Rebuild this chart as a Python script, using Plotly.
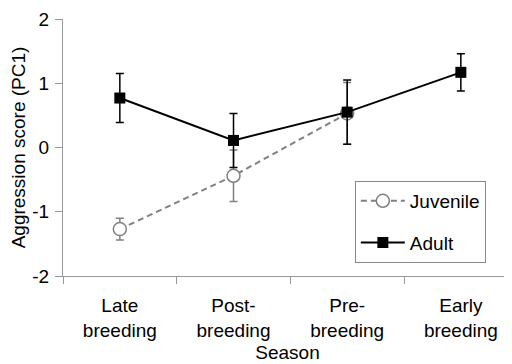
import plotly.graph_objects as go

seasons = ["Late<br>breeding", "Post-<br>breeding", "Pre-<br>breeding", "Early<br>breeding"]
juvenile = [-1.27, -0.44, 0.53]
juvenile_err = [0.17, 0.40, 0.48]
adult = [0.77, 0.11, 0.55, 1.17]
adult_err = [0.38, 0.42, 0.50, 0.29]
y_ticks = [-2, -1, 0, 1, 2]
y_tick_labels = ["-2", "-1", "0", "1", "2"]

font = "Liberation Sans, Arial, sans-serif"
gray = "#808080"

fig = go.Figure()
fig.add_trace(go.Scatter(
    x=seasons[:3], y=juvenile, name="Juvenile", mode="lines+markers", legendgroup="j",
    line=dict(color=gray, width=2, dash="6px,4px"),
    marker=dict(symbol="circle", size=13, color="white", line=dict(color=gray, width=1.5)),
    error_y=dict(type="data", array=juvenile_err, color=gray, thickness=1.5, width=4),
))
fig.add_trace(go.Scatter(
    x=seasons, y=adult, name="Adult", mode="lines+markers", legendgroup="a",
    line=dict(color="black", width=2),
    marker=dict(symbol="square", size=11, color="black"),
    error_y=dict(type="data", array=adult_err, color="black", thickness=1.5, width=4),
))

# page body has an 8px margin, so the figure is laid out 8px smaller
fig.update_layout(
    width=504, height=356,
    margin=dict(l=55, r=0, t=11, b=88),
    paper_bgcolor="white", plot_bgcolor="white",
    font=dict(family=font, size=19, color="black"),
    showlegend=True,
    legend=dict(
        x=0.65, y=0.37, xanchor="left", yanchor="top",
        bordercolor="#888888", borderwidth=1, bgcolor="white",
        font=dict(size=19), tracegroupgap=14, itemwidth=44,
    ),
)
fig.update_xaxes(
    type="category", categoryorder="array", categoryarray=seasons,
    range=[-0.5, 3.45], showline=True, linecolor="#999999", linewidth=1,
    ticks="outside", tickson="boundaries", ticklen=7, tickcolor="#999999",
    showgrid=False, zeroline=False, automargin=False,
    ticklabelstandoff=12,
    title=dict(text="Season", standoff=6, font=dict(size=19)),
    tickfont=dict(size=19),
)
fig.update_yaxes(
    range=[-2, 2], tickvals=y_ticks, ticktext=y_tick_labels,
    showline=True, linecolor="#999999", linewidth=1,
    ticks="outside", ticklen=7, tickcolor="#999999",
    showgrid=False, zeroline=False, automargin=False,
    ticklabelstandoff=2,
    title=dict(text="Aggression score (PC1)", standoff=4, font=dict(size=19)),
    tickfont=dict(size=19),
)

fig.write_html("out.html")
